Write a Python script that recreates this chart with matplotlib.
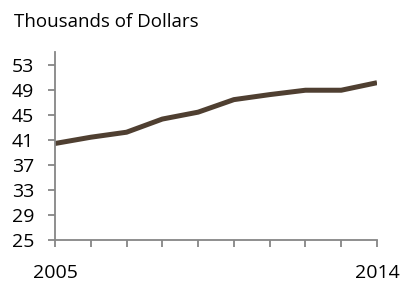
import matplotlib
matplotlib.use("Agg")
import matplotlib.pyplot as plt

years = [2005, 2006, 2007, 2008, 2009, 2010, 2011, 2012, 2013, 2014]
values = [40.4, 41.4, 42.2, 44.3, 45.4, 47.4, 48.2, 48.9, 48.9, 50.1]
y_ticks = [25, 29, 33, 37, 41, 45, 49, 53]
x_labels = ["2005", "", "", "", "", "", "", "", "", "2014"]

plt.rcParams["font.family"] = ["Open Sans", "DejaVu Sans"]

fig = plt.figure(figsize=(4.11, 2.82), dpi=100)
ax = fig.add_axes([55 / 411, 1 - 240 / 282, (377 - 55) / 411, (240 - 52) / 282])

ax.plot(years, values, color="#4f3f31", lw=3.6, solid_capstyle="butt")

ax.set_xlim(years[0], years[-1])
ax.set_ylim(25, 55)
ax.set_yticks(y_ticks)
ax.set_xticks(years)
ax.set_xticklabels(x_labels)

axis_grey = "#868686"
for side in ("top", "right"):
    ax.spines[side].set_visible(False)
for side in ("left", "bottom"):
    ax.spines[side].set_color(axis_grey)
    ax.spines[side].set_linewidth(1.3)

ax.tick_params(axis="y", direction="out", length=5, width=1.3, color=axis_grey,
               labelsize=14, pad=10)
ax.tick_params(axis="x", direction="out", length=5, width=1.3, color=axis_grey,
               labelsize=14, pad=12)

fig.text(14 / 411, 1 - 27 / 282, "Thousands of Dollars", fontsize=13.5,
         ha="left", va="baseline")

fig.savefig("out.png", dpi=100)
